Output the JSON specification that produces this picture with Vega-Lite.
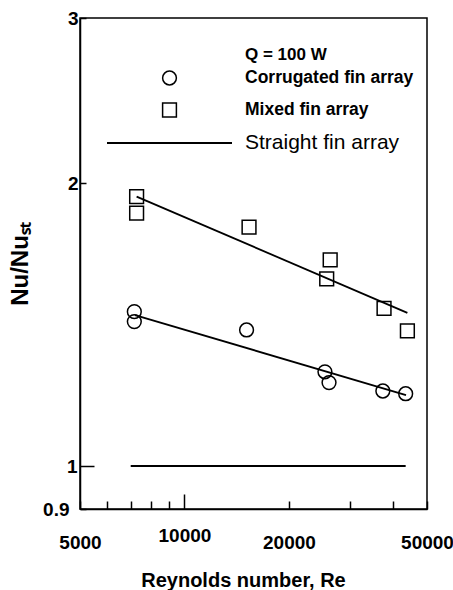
{
  "$schema": "https://vega.github.io/schema/vega-lite/v6.json",
  "width": 347,
  "height": 491,
  "autosize": {"type": "none"},
  "padding": {"left": 80, "top": 18, "right": 26, "bottom": 81},
  "background": "white",
  "config": {
    "view": {"stroke": "black", "strokeWidth": 1.5},
    "font": "Liberation Sans",
    "axis": {
      "grid": false,
      "domainColor": "black",
      "domainWidth": 1.5,
      "tickColor": "black",
      "tickWidth": 1.5,
      "labelColor": "black",
      "titleColor": "black"
    }
  },
  "datasets": {
    "points": [
      {"series": "Mixed fin array", "Re": 7280, "ratio": 1.936},
      {"series": "Mixed fin array", "Re": 7280, "ratio": 1.859},
      {"series": "Mixed fin array", "Re": 15350, "ratio": 1.796},
      {"series": "Mixed fin array", "Re": 26300, "ratio": 1.658},
      {"series": "Mixed fin array", "Re": 25700, "ratio": 1.582},
      {"series": "Mixed fin array", "Re": 37600, "ratio": 1.472},
      {"series": "Mixed fin array", "Re": 43900, "ratio": 1.393},
      {"series": "Corrugated fin array", "Re": 7170, "ratio": 1.46},
      {"series": "Corrugated fin array", "Re": 7170, "ratio": 1.425},
      {"series": "Corrugated fin array", "Re": 15100, "ratio": 1.396},
      {"series": "Corrugated fin array", "Re": 25400, "ratio": 1.26},
      {"series": "Corrugated fin array", "Re": 26100, "ratio": 1.227},
      {"series": "Corrugated fin array", "Re": 37300, "ratio": 1.202},
      {"series": "Corrugated fin array", "Re": 43400, "ratio": 1.194}
    ],
    "fits": [
      {"fit": "Mixed", "Re": 7280, "ratio": 1.936},
      {"fit": "Mixed", "Re": 43900, "ratio": 1.456},
      {"fit": "Corrugated", "Re": 7200, "ratio": 1.448},
      {"fit": "Corrugated", "Re": 43500, "ratio": 1.19}
    ],
    "straight": [
      {"Re": 7000, "ratio": 1},
      {"Re": 43400, "ratio": 1}
    ]
  },
  "encoding": {
    "x": {
      "field": "Re",
      "type": "quantitative",
      "scale": {"type": "log", "domain": [5000, 50000], "nice": false},
      "axis": {
        "values": [5000, 6000, 7000, 8000, 9000, 10000, 20000, 30000, 40000, 50000],
        "labelExpr": "datum.value == 5000 || datum.value == 10000 || datum.value == 20000 || datum.value == 50000 ? format(datum.value, 'd') : ''",
        "labelFlush": false,
        "labelOverlap": false,
        "labelBound": false,
        "labelFontSize": 19,
        "labelFontWeight": "bold",
        "labelPadding": 32,
        "tickSize": {"condition": {"test": "datum.value == 10000", "value": -15}, "value": -8},
        "title": "Reynolds number,  Re",
        "titleFontSize": 20,
        "titleFontWeight": "bold",
        "titlePadding": 18,
        "titleX": 163
      }
    },
    "y": {
      "field": "ratio",
      "type": "quantitative",
      "scale": {"type": "log", "domain": [0.9, 3], "nice": false},
      "axis": {
        "values": [0.9, 1, 2, 3],
        "labelExpr": "datum.value == 0.9 ? '0.9' : format(datum.value, 'd')",
        "labelOverlap": false,
        "labelBound": false,
        "labelFontSize": 19,
        "labelFontWeight": "bold",
        "labelPadding": 8,
        "tickSize": {"condition": {"test": "datum.value == 1", "value": -14}, "value": -6},
        "title": "Nu/Nuₛₜ",
        "titleFontSize": 24,
        "titleFontWeight": "bold",
        "titlePadding": 10,
        "encoding": {
          "labels": {
            "dx": {"value": {"expr": "datum.value < 1.5 ? -9 : 0"}}
          }
        }
      }
    }
  },
  "layer": [
    {
      "data": {"name": "straight"},
      "mark": {"type": "line", "color": "black", "strokeWidth": 2}
    },
    {
      "data": {"name": "fits"},
      "mark": {"type": "line", "color": "black", "strokeWidth": 1.8},
      "encoding": {"detail": {"field": "fit"}}
    },
    {
      "data": {"name": "points"},
      "mark": {"type": "point", "filled": false, "color": "black", "strokeWidth": 1.5, "opacity": 1, "size": 190},
      "encoding": {
        "shape": {
          "field": "series",
          "type": "nominal",
          "scale": {
            "domain": ["Corrugated fin array", "Mixed fin array", "Straight fin array"],
            "range": ["circle", "square", "stroke"]
          },
          "legend": {
            "orient": "none",
            "legendX": 27,
            "legendY": 29,
            "padding": 0,
            "title": "Q = 100 W",
            "titleFontSize": 17,
            "titleFontWeight": "bold",
            "titleColor": "black",
            "titlePadding": 9,
            "labelFontSize": 17.5,
            "labelFontWeight": "bold",
            "labelColor": "black",
            "labelOffset": 12,
            "labelLimit": 0,
            "rowPadding": 12,
            "symbolSize": 190,
            "symbolStrokeColor": "black",
            "symbolStrokeWidth": 1.5,
            "encoding": {
              "symbols": {
                "x": {"value": 62.5},
                "size": {"value": {"expr": "datum.value == 'Straight fin array' ? 15625 : 190"}},
                "strokeWidth": {"value": {"expr": "datum.value == 'Straight fin array' ? 2 : 1.5"}}
              },
              "labels": {
                "x": {"value": 138},
                "fontSize": {"condition": {"test": "datum.label == 'Straight fin array'", "value": 21}, "value": 17.5},
                "fontWeight": {"condition": {"test": "datum.label == 'Straight fin array'", "value": "normal"}, "value": "bold"}
              },
              "title": {"dx": {"value": 138}}
            }
          }
        }
      }
    }
  ]
}
